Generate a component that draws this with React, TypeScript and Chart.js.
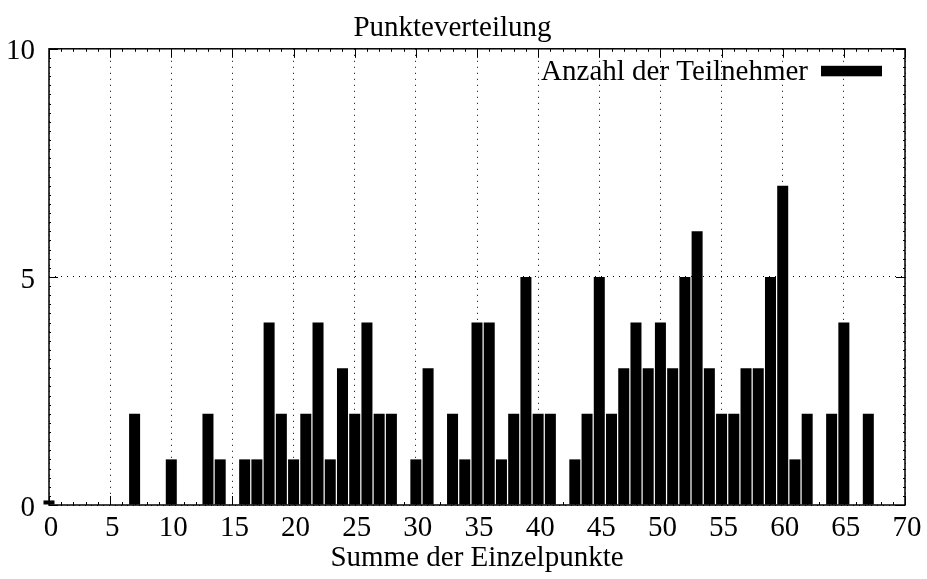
import React, { useEffect, useRef } from "react";
import { Chart, registerables } from "chart.js";

Chart.register(...registerables);

const titleText = "Punkteverteilung";
const xTitle = "Summe der Einzelpunkte";
const seriesLabel = "Anzahl der Teilnehmer";

const points: number[] = [
  0, 1, 2, 3, 4, 5, 6, 7, 8, 9, 10, 11, 12, 13, 14, 15, 16, 17, 18, 19, 20, 21, 22, 23, 24, 25, 26, 27, 28, 29, 30, 31, 32, 33,
  34, 35, 36, 37, 38, 39, 40, 41, 42, 43, 44, 45, 46, 47, 48, 49, 50, 51, 52, 53, 54, 55, 56, 57, 58, 59, 60, 61, 62, 63, 64, 65, 66, 67,
];
const counts: number[] = [
  0.1, 0, 0, 0, 0, 0, 0, 2, 0, 0, 1, 0, 0, 2, 1, 0, 1, 1, 4, 2, 1, 2, 4, 1, 3, 2, 4, 2, 2, 0, 1, 3, 0, 2,
  1, 4, 4, 1, 2, 5, 2, 2, 0, 1, 2, 5, 2, 3, 4, 3, 4, 3, 5, 6, 3, 2, 2, 3, 3, 5, 7, 1, 2, 0, 2, 4, 0, 2,
];
const xMin = 0;
const xMax = 70;
const xStep = 5;
const yMin = 0;
const yMax = 10;
const yStep = 5;
const xMinorStep = 1;
const yMinorStep = 0.2;

const FONT = "'Liberation Serif', 'Times New Roman', serif";
const FONT_SIZE = 29;

const frameTicks = {
  id: "frameTicks",
  afterDraw(chart: any) {
    const { ctx, chartArea: a, scales } = chart;
    const xs = scales.x;
    const ys = scales.y;
    ctx.save();
    ctx.strokeStyle = "#000";
    ctx.lineWidth = 1;
    const nx = Math.round((xMax - xMin) / xMinorStep);
    for (let i = 0; i <= nx; i++) {
      const v = xMin + i * xMinorStep;
      const px = Math.round(xs.getPixelForValue(v)) + 0.5;
      const major = Math.abs(v / xStep - Math.round(v / xStep)) < 1e-6;
      const len = major ? 9 : 3;
      ctx.beginPath();
      ctx.moveTo(px, a.bottom);
      ctx.lineTo(px, a.bottom - len);
      ctx.moveTo(px, a.top);
      ctx.lineTo(px, a.top + len);
      ctx.stroke();
    }
    const ny = Math.round((yMax - yMin) / yMinorStep);
    for (let i = 0; i <= ny; i++) {
      const v = yMin + i * yMinorStep;
      const py = Math.round(ys.getPixelForValue(v)) + 0.5;
      const major = Math.abs(v / yStep - Math.round(v / yStep)) < 1e-6;
      const len = major ? 9 : 2;
      ctx.beginPath();
      ctx.moveTo(a.left, py);
      ctx.lineTo(a.left + len, py);
      ctx.moveTo(a.right, py);
      ctx.lineTo(a.right - len, py);
      ctx.stroke();
    }
    ctx.lineWidth = 1.5;
    ctx.strokeRect(a.left, a.top, a.right - a.left, a.bottom - a.top);

    // key (legend) inside the plot, text left of the sample box
    const ds = chart.data.datasets[0];
    const boxW = 61;
    const boxH = 10.5;
    const boxRight = a.right - 23;
    const boxTop = a.top + 17;
    ctx.fillStyle = ds.backgroundColor;
    ctx.fillRect(boxRight - boxW, boxTop, boxW, boxH);
    ctx.fillStyle = "#000";
    ctx.font = `${FONT_SIZE}px ${FONT}`;
    ctx.textAlign = "right";
    ctx.textBaseline = "middle";
    ctx.fillText(ds.label, boxRight - boxW - 13, boxTop + boxH / 2 + 1);
    ctx.restore();
  },
};

export default function App() {
  const ref = useRef<HTMLCanvasElement | null>(null);
  useEffect(() => {
    if (!ref.current) return;
    const chart = new Chart(ref.current, {
      type: "bar",
      data: {
        datasets: [
          {
            label: seriesLabel,
            data: points.map((p, i) => ({ x: p, y: counts[i] })),
            backgroundColor: "#000",
            borderWidth: 0,
            barPercentage: 0.9,
            categoryPercentage: 1,
            clip: false as any,
          },
        ],
      },
      options: {
        animation: false,
        responsive: false,
        maintainAspectRatio: false,
        layout: { padding: { left: 0, right: 22, top: 0, bottom: 0 } },
        plugins: {
          title: {
            display: true,
            text: titleText,
            color: "#000",
            font: { family: FONT, size: FONT_SIZE, weight: "normal" },
            padding: { top: 11, bottom: 3 },
          },
          legend: { display: false },
          tooltip: { enabled: false },
        },
        scales: {
          x: {
            type: "linear",
            min: xMin,
            max: xMax,
            offset: false,
            grid: {
              color: "#000",
              lineWidth: 1,
              drawTicks: false,
              offset: false,
            },
            border: { display: false, dash: [1, 5] },
            ticks: {
              stepSize: xStep,
              color: "#000",
              font: { family: FONT, size: FONT_SIZE },
              padding: 6,
              maxRotation: 0,
              labelOffset: 2,
            },
            title: {
              display: true,
              text: xTitle,
              color: "#000",
              font: { family: FONT, size: FONT_SIZE },
              padding: { top: 0, bottom: 3 },
            },
            afterFit(scale: any) {
              scale.height = 74;
            },
          },
          y: {
            min: yMin,
            max: yMax,
            grid: { color: "#000", lineWidth: 1, drawTicks: false },
            border: { display: false, dash: [1, 5] },
            ticks: {
              stepSize: yStep,
              color: "#000",
              font: { family: FONT, size: FONT_SIZE },
              padding: 14,
              labelOffset: 3,
            },
            afterFit(scale: any) {
              scale.width = 49;
            },
          },
        },
      },
      plugins: [frameTicks],
    });
    return () => chart.destroy();
  }, []);
  return (
    <div style={{ position: "fixed", left: 0, top: 0, width: 927, height: 579, background: "#fff" }}>
      <canvas ref={ref} width={927} height={579} style={{ display: "block" }} />
    </div>
  );
}
